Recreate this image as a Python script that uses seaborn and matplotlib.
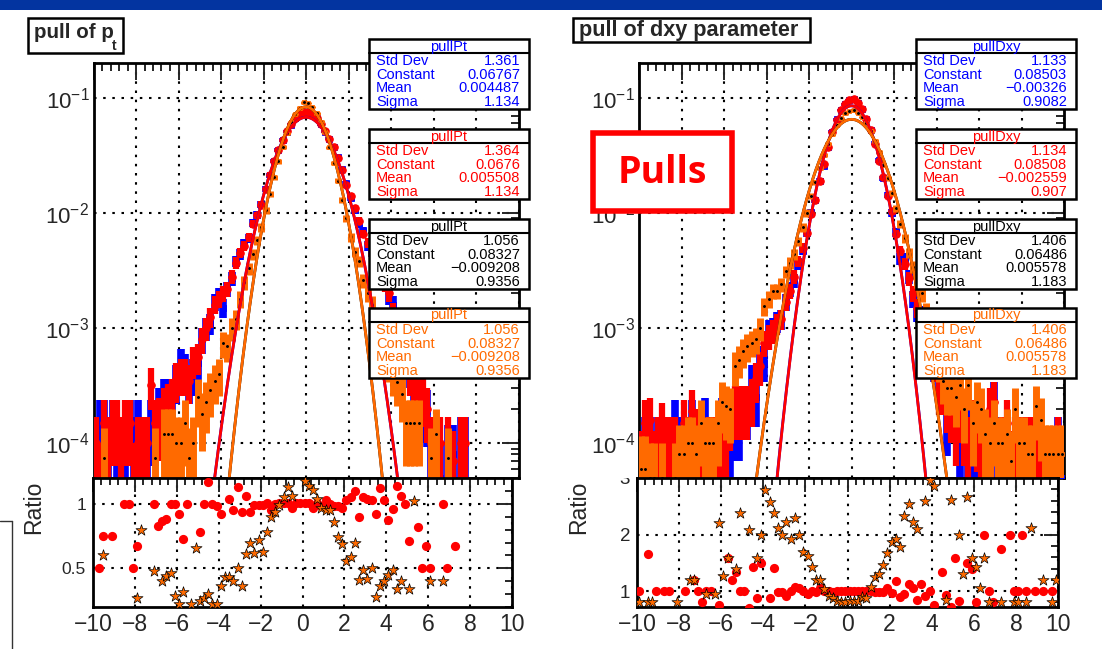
import numpy as np
import matplotlib
matplotlib.use("Agg")
import matplotlib.pyplot as plt
import seaborn as sns
from matplotlib.patches import Rectangle
from matplotlib.lines import Line2D
from matplotlib.ticker import MultipleLocator, LogLocator, NullFormatter, FuncFormatter, FixedLocator

sns.set_style("white")
plt.rcParams["font.family"] = ["Liberation Sans", "DejaVu Sans"]
plt.rcParams["mathtext.fontset"] = "custom"
plt.rcParams["mathtext.rm"] = "Liberation Sans"
plt.rcParams["mathtext.it"] = "Liberation Sans:italic"
plt.rcParams["mathtext.bf"] = "Liberation Sans:bold"
plt.rcParams["axes.unicode_minus"] = True

# ---------------- data ----------------
X_LO, X_HI, N_BINS = -10.0, 10.0, 100
UNIT = 1e-4          # bin contents below are given in units of 1e-4
NORM = 20000.0       # entries used for the statistical error bars

# pull of pt : bin contents (x1e-4), bins from -10 to 10, width 0.2
pt_blue = [0.5, 1.5, 1.5, 1, 1.5, 1, 0.5, 1, 1.5, 1,
           1.5, 1, 1, 1.5, 1.5, 2, 2.5, 2.5, 2.5, 3.5,
           5, 4.5, 3.5, 4, 5, 8, 10, 11, 17, 19,
           15, 22, 27, 38, 44, 54, 60, 82, 96, 118,
           162, 212, 282, 352, 428, 505, 585, 665, 715, 748,
           750, 720, 670, 590, 505, 440, 372, 305, 240, 180,
           136, 105, 80, 70, 52, 46, 34, 28, 25, 19,
           16, 11, 7, 6, 4.5, 3.5, 2.5, 2, 1.9, 0.8,
           0.8, 0.5, 0, 0.8, 0.8, 0, 1, 1, 0, 0,
           0, 0, 0, 0, 0, 0, 0, 0, 0, 0]
pt_red = [1, 0.5, 1.5, 1, 1.5, 1.5, 1, 1.5, 1.5, 0.5,
          1, 1, 1, 3.2, 1.5, 1.6, 2, 2.2, 2.5, 3.6,
          4, 4, 3.5, 5.2, 5.6, 8, 10, 12.5, 16, 18,
          20, 22, 28, 37, 45, 52, 62, 80, 95, 118,
          160, 215, 280, 355, 430, 510, 590, 660, 720, 755,
          755, 725, 665, 595, 515, 440, 370, 300, 235, 175,
          140, 110, 85, 66, 55, 44, 36, 30, 24, 20,
          14, 11, 8, 6, 4, 3, 3, 2.5, 2, 1,
          0.5, 1, 0, 1, 0.7, 0, 1, 1, 0, 0,
          0, 0, 0, 0, 0, 0, 0, 0, 0, 0]
pt_orange = [0, 0, 0.75, 0, 0, 0, 0, 0, 0, 0,
             0, 0, 0, 0, 0.75, 0, 1.2, 1.2, 1.2, 1.0,
             1.0, 1.5, 0.75, 1.0, 2.5, 1.8, 2.3, 2.9, 3.5, 4.0,
             7.4, 7, 10, 12, 18, 25, 33, 44, 58, 75,
             105, 145, 205, 280, 375, 490, 610, 720, 820, 910,
             900, 830, 730, 620, 500, 370, 270, 190, 130, 90,
             62, 46, 38, 26, 20, 16, 12, 9, 7, 5,
             4, 3.4, 2.7, 1.5, 1.5, 1.5, 1.5, 0, 0, 0.75,
             1.2, 0, 0, 0.75, 0, 0, 0, 0, 0, 0,
             0, 0, 0, 0, 0, 0, 0, 0, 0, 0]

# pull of dxy : bin contents (x1e-4)
dxy_blue = [0.7, 1, 1, 0.5, 1, 1, 1, 1, 1.5, 1,
            1, 1, 1.5, 1, 1, 1.6, 1, 1, 0.8, 1.6,
            0.8, 1.2, 1.6, 1.6, 2.1, 2.1, 3.5, 2.5, 5.3, 5,
            9.5, 10, 11.5, 12, 17, 22, 26, 36, 48, 67,
            100, 130, 190, 255, 370, 505, 650, 785, 875, 955,
            965, 905, 795, 655, 520, 405, 285, 200, 142, 100,
            68, 40, 40, 28, 18, 14, 13, 8, 6.5, 5,
            4, 3, 1.7, 2.1, 2.1, 1.3, 1.8, 1.2, 1, 1,
            1, 1, 1, 2.3, 1, 0.5, 0.9, 0.5, 0.5, 1,
            1, 0.5, 1, 1, 0.5, 0, 0.5, 0, 1, 0.5]
dxy_red = [0.7, 1.5, 1.6, 0.7, 1, 1.4, 1, 1, 1, 0,
           1.5, 1, 1.9, 1.2, 1, 0.8, 1, 1, 0.7, 1.2,
           1.0, 1.8, 2.1, 2.1, 2.1, 2.1, 2.5, 3.6, 4.7, 7.5,
           8.5, 9.5, 11, 12, 17, 21, 28, 38, 50, 67,
           98, 130, 190, 265, 370, 500, 640, 780, 880, 960,
           970, 900, 800, 650, 520, 400, 283, 203, 140, 104,
           66, 47, 36, 27, 20, 15, 11, 9, 6, 5,
           3, 3, 2.3, 2, 1.5, 2, 1.5, 1, 1.5, 1.4,
           0.8, 1, 2, 2.3, 0.8, 1, 1.5, 0.7, 1, 1,
           1, 1, 1, 1, 0.5, 0, 0.5, 0, 1, 0]
dxy_orange = [0.6, 0.6, 0.5, 0.5, 0, 0.5, 0, 0, 0.5, 0.8,
              0.8, 1.0, 1.0, 0.8, 1.5, 1.0, 1.0, 1.0, 1.5, 2.3,
              2.1, 2.0, 4.7, 5.3, 6.3, 7, 7.5, 8, 10, 15.6,
              18, 21, 21, 24, 31, 37, 44, 57, 75, 100,
              140, 185, 245, 320, 400, 480, 580, 660, 730, 770,
              775, 740, 680, 600, 510, 420, 340, 260, 200, 150,
              110, 80, 60, 45, 34, 26, 20, 14, 10, 7,
              5, 3.5, 3, 3, 2.5, 3.2, 2, 3.2, 1.5, 2.3,
              2.0, 1.2, 1.0, 1.5, 1, 1.0, 1.2, 0.7, 2.0, 1.0,
              1.0, 0.8, 0.8, 2.1, 1.6, 0.8, 0.8, 0.8, 0.8, 0.8]

# ratio panels
pt_ratio_red_x = [-9.7, -9.5, -9.1, -8.5, -8.3, -8.1, -7.9, -7.1, -6.9, -6.7, -6.5, -6.3, -6.1,
                  -5.9, -5.7, -5.5, -4.9, -4.7, -4.5, -4.3, -4.1, -3.9, -3.5, -3.3, -3.1, -2.9,
                  -2.7, -2.5, -2.3, -2.1, -1.9, -1.7, -1.5, -1.3, -1.1, -0.9, -0.7, -0.5, -0.3,
                  -0.1, 0.1, 0.3, 0.5, 0.7, 0.9, 1.1, 1.3, 1.5, 1.7, 1.9, 2.1, 2.3, 2.5, 2.7,
                  2.9, 3.1, 3.3, 3.5, 3.7, 3.9, 4.1, 4.3, 4.5, 4.7, 4.9, 5.1, 5.5, 5.7, 5.9,
                  6.1, 6.7, 6.9, 7.3]
pt_ratio_red_y = [0.5, 0.75, 0.75, 1.0, 1.0, 0.5, 0.67, 1.0, 0.83, 0.87, 0.88, 1.0, 1.0,
                  0.92, 0.73, 1.0, 0.78, 1.0, 1.17, 1.0, 0.98, 0.92, 1.04, 0.95, 1.13, 0.935,
                  1.06, 0.935, 0.99, 0.99, 0.99, 1.01, 0.95, 1.0, 1.01, 1.01, 1.01, 0.97, 1.01,
                  1.01, 1.01, 1.01, 0.97, 1.01, 0.98, 1.03, 1.0, 0.98, 0.98, 0.97, 1.03, 1.05,
                  1.10, 0.90, 1.05, 1.04, 1.03, 0.92, 1.12, 1.03, 0.875, 0.96, 1.14, 1.06, 1.0,
                  0.71, 0.82, 0.5, 0.67, 0.5, 1.0, 0.5, 0.67]
pt_ratio_orange_x = [-9.5, -7.9, -7.7, -7.1, -6.7, -6.5, -6.3, -6.1, -5.9, -5.7, -5.3, -5.1,
                     -4.9, -4.7, -4.5, -4.3, -4.1, -3.9, -3.7, -3.5, -3.3, -3.1, -2.9, -2.7,
                     -2.5, -2.3, -2.1, -1.9, -1.7, -1.5, -1.3, -1.1, -0.9, -0.7, -0.5, 0.1,
                     0.3, 0.5, 0.7, 0.9, 1.1, 1.3, 1.5, 1.7, 1.9, 2.1, 2.3, 2.5, 2.7, 2.9,
                     3.1, 3.3, 3.5, 3.7, 3.9, 4.1, 4.3, 4.5, 4.7, 5.1, 5.3, 6.1, 6.7]
pt_ratio_orange_y = [0.60, 0.27, 0.80, 0.48, 0.40, 0.44, 0.46, 0.285, 0.22, 0.32, 0.22, 0.66,
                     0.245, 0.27, 0.30, 0.22, 0.22, 0.36, 0.43, 0.43, 0.40, 0.50, 0.365, 0.61,
                     0.70, 0.62, 0.72, 0.63, 0.78, 0.90, 0.94, 0.99, 1.05, 1.13, 1.06, 1.18,
                     1.14, 1.11, 1.04, 0.97, 0.95, 0.95, 0.86, 0.74, 0.69, 0.56, 0.59, 0.70,
                     0.41, 0.49, 0.42, 0.50, 0.275, 0.36, 0.40, 0.45, 0.49, 0.34, 0.40, 0.34,
                     1.02, 0.40, 0.40]

dxy_ratio_red_x = [-9.9, -9.5, -9.1, -8.7, -8.5, -7.7, -7.3, -7.1, -6.9, -6.7, -6.5, -6.1,
                   -5.7, -5.5, -5.3, -5.1, -4.9, -4.7, -4.5, -4.3, -4.1, -3.7, -3.5, -3.3,
                   -3.1, -2.9, -2.7, -2.5, -2.3, -2.1, -1.9, -1.7, -1.5, -1.3, -1.1, -0.9,
                   -0.7, -0.5, -0.3, -0.1, 0.1, 0.3, 0.5, 0.7, 0.9, 1.1, 1.3, 1.5, 1.7, 1.9,
                   2.1, 2.3, 2.5, 2.7, 2.9, 3.1, 3.3, 3.5, 3.7, 3.9, 4.1, 4.5, 4.7, 4.9, 5.1,
                   5.3, 5.7, 5.9, 6.1, 6.5, 6.7, 6.9, 7.3, 7.7, 7.9, 8.1, 8.3, 8.5, 8.9, 9.3,
                   9.7]
dxy_ratio_red_y = [1.0, 1.66, 1.0, 1.0, 1.0, 1.0, 1.2, 1.0, 0.8, 1.0, 1.0, 0.75,
                   1.59, 1.2, 1.33, 1.0, 1.0, 0.7, 1.43, 0.88, 1.5, 0.88, 1.41, 0.98,
                   0.98, 0.92, 1.0, 1.08, 1.05, 1.0, 0.95, 1.0, 0.98, 1.05, 1.0, 1.0,
                   0.99, 1.0, 1.0, 1.0, 1.0, 1.0, 1.01, 1.0, 1.0, 1.0, 0.99, 0.98, 0.98, 1.05,
                   0.96, 1.18, 0.9, 0.95, 1.12, 1.05, 0.85, 1.13, 0.92, 1.0, 0.75, 1.33, 0.93,
                   0.72, 1.59, 0.83, 1.5, 1.4, 0.8, 2.0, 1.0, 0.8, 1.75, 2.0, 1.0, 1.0, 2.0,
                   1.0, 1.0, 1.0, 1.0]
dxy_ratio_orange_x = [-9.9, -9.5, -9.3, -8.1, -7.5, -7.3, -6.7, -6.3, -6.1, -5.9, -5.7, -5.3,
                      -5.1, -4.7, -4.3, -4.1, -3.9, -3.7, -3.5, -3.3, -3.1, -2.9, -2.7, -2.5,
                      -2.3, -2.1, -1.9, -1.7, -1.5, -1.3, -1.1, -0.9, -0.7, -0.5, -0.3, -0.1,
                      0.1, 0.3, 0.5, 0.7, 0.9, 1.1, 1.3, 1.5, 1.7, 1.9, 2.1, 2.3, 2.5, 2.7,
                      2.9, 3.1, 3.3, 3.7, 3.9, 4.1, 4.7, 4.9, 5.3, 5.5, 5.7, 5.9, 6.1, 6.3,
                      6.5, 6.7, 7.3, 7.9, 8.1, 8.5, 8.7, 9.3, 9.7, 9.9]
dxy_ratio_orange_y = [0.8, 0.8, 0.8, 0.8, 1.19, 1.19, 0.95, 0.95, 2.2, 1.27, 1.59, 1.4,
                      2.38, 2.08, 1.59, 2.0, 2.79, 2.57, 2.38, 2.12, 2.0, 2.22, 1.92, 2.3,
                      2.0, 1.7, 1.62, 1.43, 1.2, 1.2, 1.04, 0.92, 0.88, 0.82, 0.8, 0.8,
                      0.82, 0.82, 0.82, 0.9, 0.88, 1.08, 1.25, 1.3, 1.47, 1.67, 1.87, 1.92,
                      1.78, 2.33, 2.54, 2.22, 2.1, 2.59, 2.96, 2.86, 0.85, 2.62, 2.0, 1.3,
                      2.67, 1.59, 1.43, 1.05, 1.59, 0.8, 0.8, 0.8, 0.8, 0.8, 2.12, 1.2, 0.8, 1.2]

# fit / statistics boxes: (Std Dev, Constant, Mean, Sigma)
STAT_LABELS = ["Std Dev", "Constant", "Mean", "Sigma"]
pt_stats_blue = [1.361, 0.06767, 0.004487, 1.134]
pt_stats_red = [1.364, 0.0676, 0.005508, 1.134]
pt_stats_black = [1.056, 0.08327, -0.009208, 0.9356]
pt_stats_orange = [1.056, 0.08327, -0.009208, 0.9356]
dxy_stats_blue = [1.133, 0.08503, -0.00326, 0.9082]
dxy_stats_red = [1.134, 0.08508, -0.002559, 0.907]
dxy_stats_black = [1.406, 0.06486, 0.005578, 1.183]
dxy_stats_orange = [1.406, 0.06486, 0.005578, 1.183]

BLUE, RED, ORANGE, BLACK = "#0000ff", "#ff0000", "#ff6a00", "#000000"

# ---------------- figure ----------------
W, H = 1102, 649
fig = plt.figure(figsize=(W / 100, H / 100), dpi=100)
fig.patch.set_facecolor("white")

def fx(x):
    return x / W

def fy(y):
    return 1 - y / H

def axes_px(x0, x1, y0, y1):
    return fig.add_axes([x0 / W, 1 - y1 / H, (x1 - x0) / W, (y1 - y0) / H])

axL = axes_px(93.5, 518.5, 63, 478)
axLr = axes_px(93, 512, 478, 607)
axR = axes_px(639, 1064, 63, 478)
axRr = axes_px(637, 1058, 478, 607)

edges = np.linspace(X_LO, X_HI, N_BINS + 1)
centers = 0.5 * (edges[:-1] + edges[1:])

GRID = dict(color="black", linestyle=(0, (1.2, 3.2)), linewidth=1.5)


def draw_hist(ax, vals, color, marker, ms, elw, z, mec=None):
    v = np.asarray(vals, float) * UNIT
    m = v > 0
    x, y = centers[m], v[m]
    err = np.sqrt(y / NORM)
    lo = np.minimum(err, y * 0.999)
    ax.errorbar(x, y, yerr=[lo, err], fmt=marker, color=color, ms=ms,
                elinewidth=elw, capsize=0, mec=mec or color, mew=0.6, zorder=z)
    return x, y


def draw_black_marks(ax, vals, z):
    # the black histogram (identical to the orange one) is drawn with tiny dots
    v = np.asarray(vals, float) * UNIT
    m = v > 0
    ax.plot(centers[m], v[m], linestyle="none", marker=".", ms=2.2, color=BLACK, zorder=z)


def draw_fit(ax, stats, color, z):
    xs = np.linspace(X_LO, X_HI, 1201)
    c, mu, s = stats[1], stats[2], stats[3]
    ys = c * np.exp(-0.5 * ((xs - mu) / s) ** 2)
    sns.lineplot(x=xs, y=ys, ax=ax, color=color, linewidth=2.0, zorder=z)


def style_frame(ax):
    ax.set_xlabel("")
    ax.set_ylabel("")
    for sp in ax.spines.values():
        sp.set_linewidth(2)
        sp.set_color("black")


def style_main(ax):
    ax.set_yscale("log")
    ax.set_xlim(X_LO, X_HI)
    ax.set_ylim(5e-5, 0.2)
    ax.xaxis.set_major_locator(MultipleLocator(2))
    ax.xaxis.set_minor_locator(MultipleLocator(0.4))
    ax.yaxis.set_major_locator(FixedLocator([1e-4, 1e-3, 1e-2, 1e-1]))
    ax.yaxis.set_minor_locator(LogLocator(base=10, subs=np.arange(2, 10), numticks=30))
    ax.yaxis.set_minor_formatter(NullFormatter())
    ax.yaxis.set_major_formatter(FuncFormatter(lambda v, p: r"$10^{%d}$" % int(round(np.log10(v)))))
    ax.tick_params(axis="x", labelbottom=False)
    ax.tick_params(which="both", direction="in", top=True, right=True, width=1.4)
    ax.tick_params(which="major", length=12, labelsize=16, pad=3)
    ax.tick_params(which="minor", length=6)
    ax.grid(True, which="major", **GRID)
    ax.set_axisbelow(True)
    style_frame(ax)


def style_ratio(ax, ylim, major, minor, ylabsize):
    ax.set_xlim(X_LO, X_HI)
    ax.set_ylim(*ylim)
    ax.xaxis.set_major_locator(MultipleLocator(2))
    ax.xaxis.set_minor_locator(MultipleLocator(0.4))
    ax.yaxis.set_major_locator(FixedLocator(major))
    ax.yaxis.set_minor_locator(MultipleLocator(minor))
    ax.yaxis.set_major_formatter(FuncFormatter(lambda v, p: "%g" % v))
    ax.tick_params(which="both", direction="in", top=True, right=True, width=1.4)
    ax.tick_params(which="major", length=10, pad=4)
    ax.tick_params(axis="x", labelsize=16.5)
    ax.tick_params(axis="y", labelsize=ylabsize, pad=5)
    ax.tick_params(which="minor", length=5)
    ax.grid(True, which="major", **GRID)
    ax.set_axisbelow(True)
    style_frame(ax)


def draw_ratio(ax, rx, ry, ox, oy):
    sns.scatterplot(x=rx, y=ry, ax=ax, color=RED, marker="o", s=44, edgecolor=RED,
                    linewidth=0, zorder=4)
    sns.scatterplot(x=ox, y=oy, ax=ax, color=ORANGE, marker="*", s=70, edgecolor=BLACK,
                    linewidth=0.5, zorder=5)


# ---- left: pull of pt
draw_hist(axL, pt_blue, BLUE, "s", 4.5, 5.5, 3)
draw_hist(axL, pt_red, RED, "o", 5.5, 4.5, 4)
draw_hist(axL, pt_orange, ORANGE, "s", 3.5, 5.0, 5)
draw_black_marks(axL, pt_orange, 5.5)
draw_fit(axL, pt_stats_blue, BLUE, 6)
draw_fit(axL, pt_stats_red, RED, 7)
draw_fit(axL, pt_stats_black, BLACK, 8)
draw_fit(axL, pt_stats_orange, ORANGE, 9)
style_main(axL)

draw_ratio(axLr, pt_ratio_red_x, pt_ratio_red_y, pt_ratio_orange_x, pt_ratio_orange_y)
style_ratio(axLr, (0.2, 1.2), [0.5, 1.0], 0.1, 12.5)

# ---- right: pull of dxy
draw_hist(axR, dxy_blue, BLUE, "s", 4.5, 5.5, 3)
draw_hist(axR, dxy_red, RED, "o", 5.5, 4.5, 4)
draw_hist(axR, dxy_orange, ORANGE, "s", 3.5, 5.0, 5)
draw_black_marks(axR, dxy_orange, 5.5)
draw_fit(axR, dxy_stats_blue, BLUE, 6)
draw_fit(axR, dxy_stats_red, RED, 7)
draw_fit(axR, dxy_stats_black, BLACK, 8)
draw_fit(axR, dxy_stats_orange, ORANGE, 9)
style_main(axR)

draw_ratio(axRr, dxy_ratio_red_x, dxy_ratio_red_y, dxy_ratio_orange_x, dxy_ratio_orange_y)
style_ratio(axRr, (0.72, 3.0), [1, 2, 3], 0.2, 13.5)

# white cover for the clipped top of the ratio "3" label (hidden by the upper pad)
fig.add_artist(Rectangle((fx(560), fy(477.5)), 75 / W, 14 / H, transform=fig.transFigure,
                         facecolor="white", edgecolor="none", zorder=2))

# "Ratio" labels
for xc in (34, 579):
    fig.text(fx(xc), fy(507), "Ratio", rotation=90, ha="center", va="center", fontsize=16.5)

# ---------------- decorations ----------------
fig.add_artist(Rectangle((0, fy(10)), 1, 10 / H, transform=fig.transFigure,
                         facecolor="#0334a0", edgecolor="none", zorder=10))


def boxed(x0, y0, x1, y1, lw=1.8, ec="black", z=10):
    fig.add_artist(Rectangle((fx(x0), fy(y1)), (x1 - x0) / W, (y1 - y0) / H,
                             transform=fig.transFigure, facecolor="white",
                             edgecolor=ec, linewidth=lw, zorder=z))


# titles
boxed(28, 18, 123, 53)
fig.text(fx(34), fy(38), "pull of p", fontsize=14.8, fontweight="bold", ha="left",
         va="baseline", zorder=11)
fig.text(fx(112), fy(50), "t", fontsize=10, fontweight="bold", ha="left",
         va="baseline", zorder=11)
boxed(573, 18, 810, 42)
fig.text(fx(579), fy(36), "pull of dxy parameter", fontsize=15.6, fontweight="bold",
         ha="left", va="baseline", zorder=11)


def fmt(v):
    return ("%.4g" % v).replace("-", "\u2212")


def stat_box(left, top, name, vals, color):
    w, h = 160, 70
    boxed(left, top, left + w, top + h, lw=1.8)
    fig.add_artist(Line2D([fx(left), fx(left + w)], [fy(top + 14)] * 2,
                          transform=fig.transFigure, color="black", lw=1.5, zorder=11))
    fig.text(fx(left + w / 2), fy(top + 7.5), name, ha="center", va="center",
             color=color, fontsize=10.5, zorder=12)
    for i, (lab, val) in enumerate(zip(STAT_LABELS, vals)):
        yy = top + 22 + i * 13.7
        fig.text(fx(left + 7), fy(yy), lab, ha="left", va="center", color=color,
                 fontsize=10.5, zorder=12)
        fig.text(fx(left + w - 9), fy(yy), fmt(val), ha="right", va="center",
                 color=color, fontsize=10.5, zorder=12)


tops = [39, 129, 219, 308]
for t, st, col in zip(tops, [pt_stats_blue, pt_stats_red, pt_stats_black, pt_stats_orange],
                      [BLUE, RED, BLACK, ORANGE]):
    stat_box(369, t, "pullPt", st, col)
for t, st, col in zip(tops, [dxy_stats_blue, dxy_stats_red, dxy_stats_black, dxy_stats_orange],
                      [BLUE, RED, BLACK, ORANGE]):
    stat_box(916, t, "pullDxy", st, col)

# "Pulls" label
boxed(593, 133, 732, 211, lw=4, ec=RED, z=13)
fig.text(fx(662.5), fy(173), "Pulls", color=RED, fontsize=27, fontweight="bold",
         family=["Open Sans", "DejaVu Sans"], ha="center", va="center", zorder=14)

# fragment of a frame at the lower left edge
fig.add_artist(Line2D([fx(12), fx(12)], [fy(521), fy(649)], transform=fig.transFigure,
                      color="#333333", lw=1.0, zorder=10))
fig.add_artist(Line2D([0, fx(12)], [fy(521), fy(521)], transform=fig.transFigure,
                      color="#333333", lw=1.0, zorder=10))

fig.savefig("out.png", dpi=100, facecolor="white")
